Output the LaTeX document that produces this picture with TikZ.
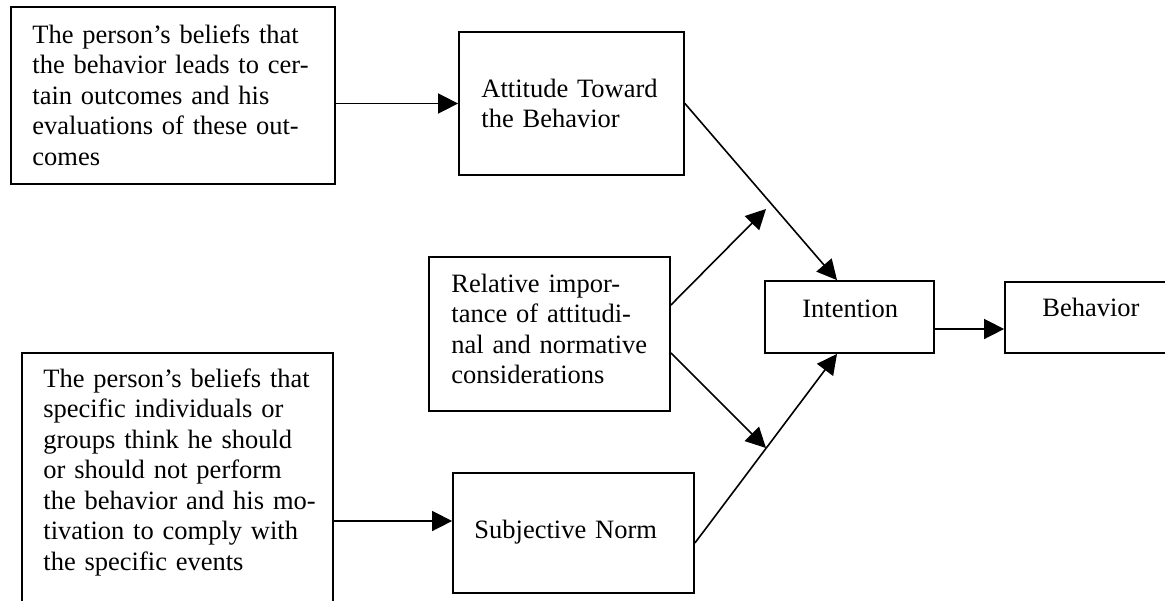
\documentclass[tikz,border=0pt]{standalone}
\usepackage{fontspec}
\setmainfont{Liberation Serif}
\usetikzlibrary{arrows.meta,fit}
\begin{document}
\begin{tikzpicture}[x=0.5pt,y=-0.5pt,
  box/.style={draw,line width=0.9pt,inner sep=0pt},
  txt/.style={anchor=base west,inner sep=0pt,text width=170pt,align=left,
    font=\fontsize{13.25pt}{15.25pt}\selectfont},
  arr/.style={line width=0.8pt,-{Triangle[length=10pt,width=10pt]}}]
\useasboundingbox (0,0) rectangle (1165,600);
\clip (0,0) rectangle (1165,600);
\fill[white] (0,0) rectangle (1165,600);
% boxes
\node[box,fit={(11,7)(335,184)}] (B1) {};
\node[box,fit={(459,32)(684,175)}] (B2) {};
\node[box,fit={(429,257)(670,411)}] (B3) {};
\node[box,fit={(765,281)(934,353)}] (Int) {};
\node[box,fit={(1005,282)(1190,353)}] (Beh) {};
\node[box,fit={(22,353)(333,640)}] (B6) {};
\node[box,fit={(453,473)(694,593)}] (SN) {};
% texts
\node[txt] (t1) at (32,43) {The person’s beliefs that\\the behavior leads to cer-\\tain outcomes and his\\evaluations of these out-\\comes};
\node[txt] (t2) at (481,97) {Attitude Toward\\the Behavior};
\node[txt] (t3) at (451,292) {Relative impor-\\tance of attitudi-\\nal and normative\\considerations};
\node[txt] (t4) at (802,317) {Intention};
\node[txt] (t5) at (1042,316) {Behavior};
\node[txt] (t6) at (474,538) {Subjective Norm};
\node[txt] (t7) at (43,387) {The person’s beliefs that\\specific individuals or\\groups think he should\\or should not perform\\the behavior and his mo-\\tivation to comply with\\the specific events};
% free ends and ports
\coordinate (c1) at (766,209);
\coordinate (c2) at (766,448);
\coordinate (snin) at ([yshift=6pt]SN.west);
% connectors
\draw[arr] (B1.east |- B2.west) -- (B2.west);
\draw[arr] (B2.east) -- ([xshift=-6.25pt]Int.north);
\draw[arr] ([yshift=14.5pt]B3.east) -- (c1);
\draw[arr] ([yshift=-9.5pt]B3.east) -- (c2);
\draw[arr] ([yshift=-5pt]SN.east) -- ([xshift=-6.25pt]Int.south);
\draw[arr] ([yshift=-6pt]Int.east) -- ([yshift=-6pt]Int.east -| Beh.west);
\draw[arr] (B6.east |- snin) -- (snin);
\end{tikzpicture}
\end{document}
